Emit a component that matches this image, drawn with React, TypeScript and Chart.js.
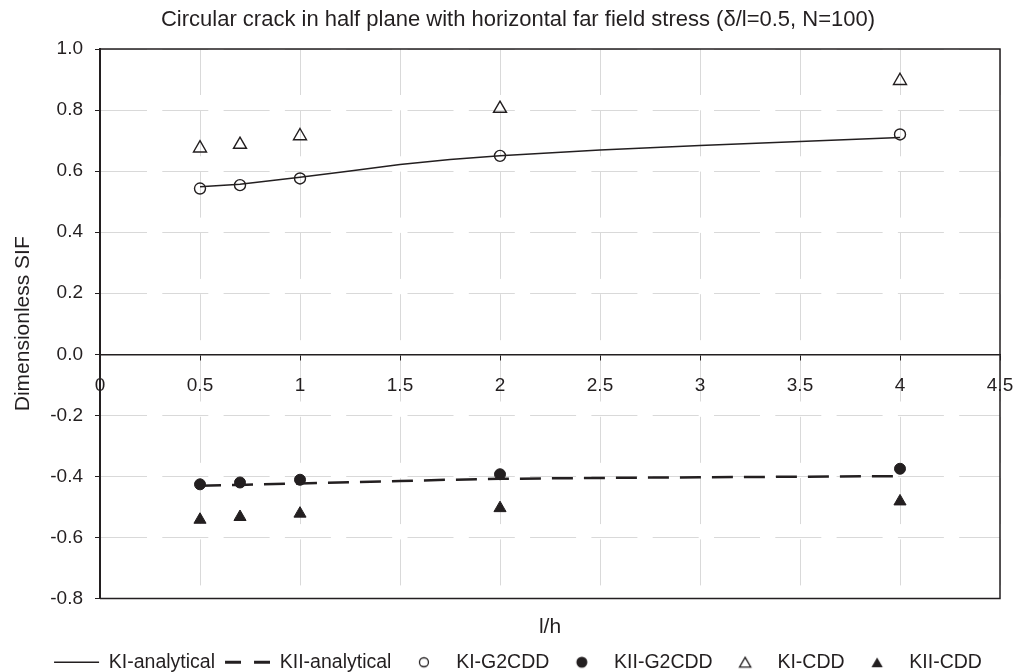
import React, { useEffect, useRef } from 'react';
import { Chart, registerables } from 'chart.js';

Chart.register(...registerables);

// ---------------- data ----------------
const chartTitle = 'Circular crack in half plane with horizontal far field stress (δ/l=0.5, N=100)';
const xTitle = 'l/h';
const yTitle = 'Dimensionless SIF';

const seriesLabels = ['KI-analytical', 'KII-analytical', 'KI-G2CDD', 'KII-G2CDD', 'KI-CDD', 'KII-CDD'];

const analyticalX = [0.5, 0.7, 1, 1.25, 1.5, 1.75, 2, 2.5, 3, 3.5, 4];
const kiAnalytical = [0.549, 0.557, 0.580, 0.600, 0.622, 0.638, 0.650, 0.669, 0.684, 0.697, 0.710];
const kiiAnalytical = [-0.431, -0.428, -0.423, -0.419, -0.415, -0.411, -0.408, -0.405, -0.403, -0.401, -0.399];

const numericalX = [0.5, 0.7, 1, 2, 4];
const kiG2CDD = [0.543, 0.554, 0.576, 0.650, 0.720];
const kiiG2CDD = [-0.426, -0.420, -0.411, -0.393, -0.375];
const kiCDD = [0.675, 0.687, 0.715, 0.805, 0.896];
const kiiCDD = [-0.542, -0.533, -0.522, -0.504, -0.482];

const xMin = 0;
const xMax = 4.5;
const xStep = 0.5;
const yMin = -0.8;
const yMax = 1.0;
const yStep = 0.2;

// ---------------- style ----------------
const INK = '#231f20';
const GRID = '#d9d9d9';
const FONT = "'Liberation Sans', Arial, Helvetica, sans-serif";
const PAD_LEFT = 36;
const GRID_DASH = [46, 15.3];

const pts = (xs: number[], ys: number[]) => xs.map((x, i) => ({ x, y: ys[i] }));

function glyph(shape: 'circle' | 'triangle', filled: boolean, r: number, lw: number): HTMLCanvasElement {
  let s = Math.ceil(2 * r + 2 * lw + 2);
  if (s % 2) s += 1;
  const c = document.createElement('canvas');
  c.width = s;
  c.height = s;
  const g = c.getContext('2d')!;
  g.translate(s / 2, s / 2);
  g.beginPath();
  if (shape === 'circle') {
    g.arc(0, 0, r, 0, Math.PI * 2);
  } else {
    const h = r * 0.25;
    for (let k = 0; k < 3; k++) {
      const a = (k * 2 * Math.PI) / 3;
      const px = Math.sin(a) * r;
      const py = -Math.cos(a) * r + h;
      if (k === 0) g.moveTo(px, py);
      else g.lineTo(px, py);
    }
    g.closePath();
  }
  if (filled) {
    g.fillStyle = INK;
    g.fill();
  } else {
    g.lineWidth = lw;
    g.strokeStyle = INK;
    g.stroke();
  }
  return c;
}

const framePlugin = {
  id: 'frame',
  afterDatasetsDraw(chart: any) {
    const { ctx, chartArea: a } = chart;
    ctx.save();
    ctx.strokeStyle = INK;
    ctx.lineWidth = 1.5;
    ctx.setLineDash([]);
    ctx.beginPath();
    ctx.moveTo(a.left, a.top);
    ctx.lineTo(a.right, a.top);
    ctx.lineTo(a.right, a.bottom);
    ctx.lineTo(a.left, a.bottom);
    ctx.stroke();
    ctx.restore();
  },
};

export default function App() {
  const ref = useRef<HTMLCanvasElement>(null);

  useEffect(() => {
    const canvas = ref.current;
    if (!canvas) return;

    const legendGlyphs: any[] = [
      { pointStyle: 'line', lineWidth: 1.5, lineDash: [] },
      { pointStyle: 'line', lineWidth: 3, lineDash: [16, 13] },
      { pointStyle: glyph('circle', false, 4.5, 1.3), lineWidth: 1 },
      { pointStyle: glyph('circle', true, 5.5, 1), lineWidth: 1 },
      { pointStyle: glyph('triangle', false, 6.5, 1.3), lineWidth: 1 },
      { pointStyle: glyph('triangle', true, 6.5, 1), lineWidth: 1 },
    ];

    const chart = new Chart(canvas, {
      type: 'scatter',
      data: {
        datasets: [
          {
            label: seriesLabels[0],
            data: pts(analyticalX, kiAnalytical),
            showLine: true,
            borderColor: INK,
            borderWidth: 1.5,
            pointRadius: 0,
            tension: 0,
            xAxisID: 'x',
            yAxisID: 'y',
          },
          {
            label: seriesLabels[1],
            data: pts(analyticalX, kiiAnalytical),
            showLine: true,
            borderColor: INK,
            borderWidth: 2.5,
            borderDash: [21, 11],
            pointRadius: 0,
            tension: 0,
            xAxisID: 'x',
            yAxisID: 'y',
          },
          {
            label: seriesLabels[2],
            data: pts(numericalX, kiG2CDD),
            showLine: false,
            pointStyle: 'circle',
            pointRadius: 5.5,
            pointBorderWidth: 1.4,
            pointBorderColor: INK,
            pointBackgroundColor: 'rgba(255,255,255,0)',
            xAxisID: 'x',
            yAxisID: 'y',
          },
          {
            label: seriesLabels[3],
            data: pts(numericalX, kiiG2CDD),
            showLine: false,
            pointStyle: 'circle',
            pointRadius: 5.5,
            pointBorderWidth: 1,
            pointBorderColor: INK,
            pointBackgroundColor: INK,
            xAxisID: 'x',
            yAxisID: 'y',
          },
          {
            label: seriesLabels[4],
            data: pts(numericalX, kiCDD),
            showLine: false,
            pointStyle: 'triangle',
            pointRadius: 7.5,
            pointBorderWidth: 1.4,
            pointBorderColor: INK,
            pointBackgroundColor: 'rgba(255,255,255,0)',
            xAxisID: 'x',
            yAxisID: 'y',
          },
          {
            label: seriesLabels[5],
            data: pts(numericalX, kiiCDD),
            showLine: false,
            pointStyle: 'triangle',
            pointRadius: 7,
            pointBorderWidth: 1,
            pointBorderColor: INK,
            pointBackgroundColor: INK,
            xAxisID: 'x',
            yAxisID: 'y',
          },
        ],
      },
      options: {
        responsive: false,
        maintainAspectRatio: false,
        animation: false,
        events: [],
        font: { family: FONT },
        layout: { padding: { left: PAD_LEFT, right: 19, top: 0, bottom: -10 } },
        plugins: {
          title: {
            display: true,
            text: chartTitle,
            color: INK,
            font: { family: FONT, size: 22, weight: 'normal' },
            padding: { top: 6.8, bottom: 15.8 },
          },
          legend: {
            display: true,
            position: 'bottom',
            onClick: () => {},
            labels: {
              usePointStyle: true,
              pointStyleWidth: 45,
              boxHeight: 8,
              padding: 10,
              color: INK,
              font: { family: FONT, size: 19.5 },
              generateLabels: (c: any) =>
                c.data.datasets.map((ds: any, i: number) => ({
                  text: ds.label,
                  datasetIndex: i,
                  hidden: false,
                  fontColor: INK,
                  strokeStyle: INK,
                  fillStyle: INK,
                  ...legendGlyphs[i],
                })),
            },
          },
          tooltip: { enabled: false },
        },
        scales: {
          x: {
            type: 'linear',
            position: { y: 0 },
            min: xMin,
            max: xMax,
            ticks: {
              stepSize: xStep,
              color: INK,
              font: { family: FONT, size: 19 },
              padding: 15,
              maxRotation: 0,
              autoSkip: false,
              callback: (v: any) => String(Math.round(Number(v) * 10) / 10),
            },
            grid: { color: GRID, lineWidth: 1, tickColor: INK, tickLength: 5, tickWidth: 1 },
            border: { display: true, color: INK, width: 1.5, dash: GRID_DASH },
            afterFit: (s: any) => {
              s.paddingLeft = 0;
              s.paddingRight = 0;
            },
          },
          x2: {
            type: 'linear',
            position: 'bottom',
            min: xMin,
            max: xMax,
            ticks: { display: false },
            grid: { display: false, drawTicks: false },
            border: { display: false },
            title: {
              display: true,
              text: xTitle,
              color: INK,
              font: { family: FONT, size: 21 },
              padding: { top: 16.4, bottom: 2.4 },
            },
          },
          y: {
            type: 'linear',
            position: 'left',
            min: yMin,
            max: yMax,
            ticks: {
              stepSize: yStep,
              color: INK,
              font: { family: FONT, size: 19 },
              padding: 12,
              callback: (v: any) => (Math.abs(Number(v)) < 1e-9 ? 0 : Number(v)).toFixed(1),
            },
            grid: { color: GRID, lineWidth: 1, tickColor: INK, tickLength: 5, tickWidth: 1 },
            border: { display: true, color: INK, width: 2, dash: GRID_DASH },
            title: {
              display: true,
              text: yTitle,
              color: INK,
              font: { family: FONT, size: 21 },
              padding: { top: 23 - PAD_LEFT - 12.6, bottom: 0 },
            },
            afterFit: (s: any) => {
              s.width = 100 - PAD_LEFT;
            },
          },
        },
      } as any,
      plugins: [framePlugin],
    });

    return () => chart.destroy();
  }, []);

  return (
    <div style={{ position: 'absolute', left: 0, top: 0, width: 1019, height: 672, background: '#fff' }}>
      <canvas ref={ref} width={1019} height={672} style={{ display: 'block' }} />
    </div>
  );
}
